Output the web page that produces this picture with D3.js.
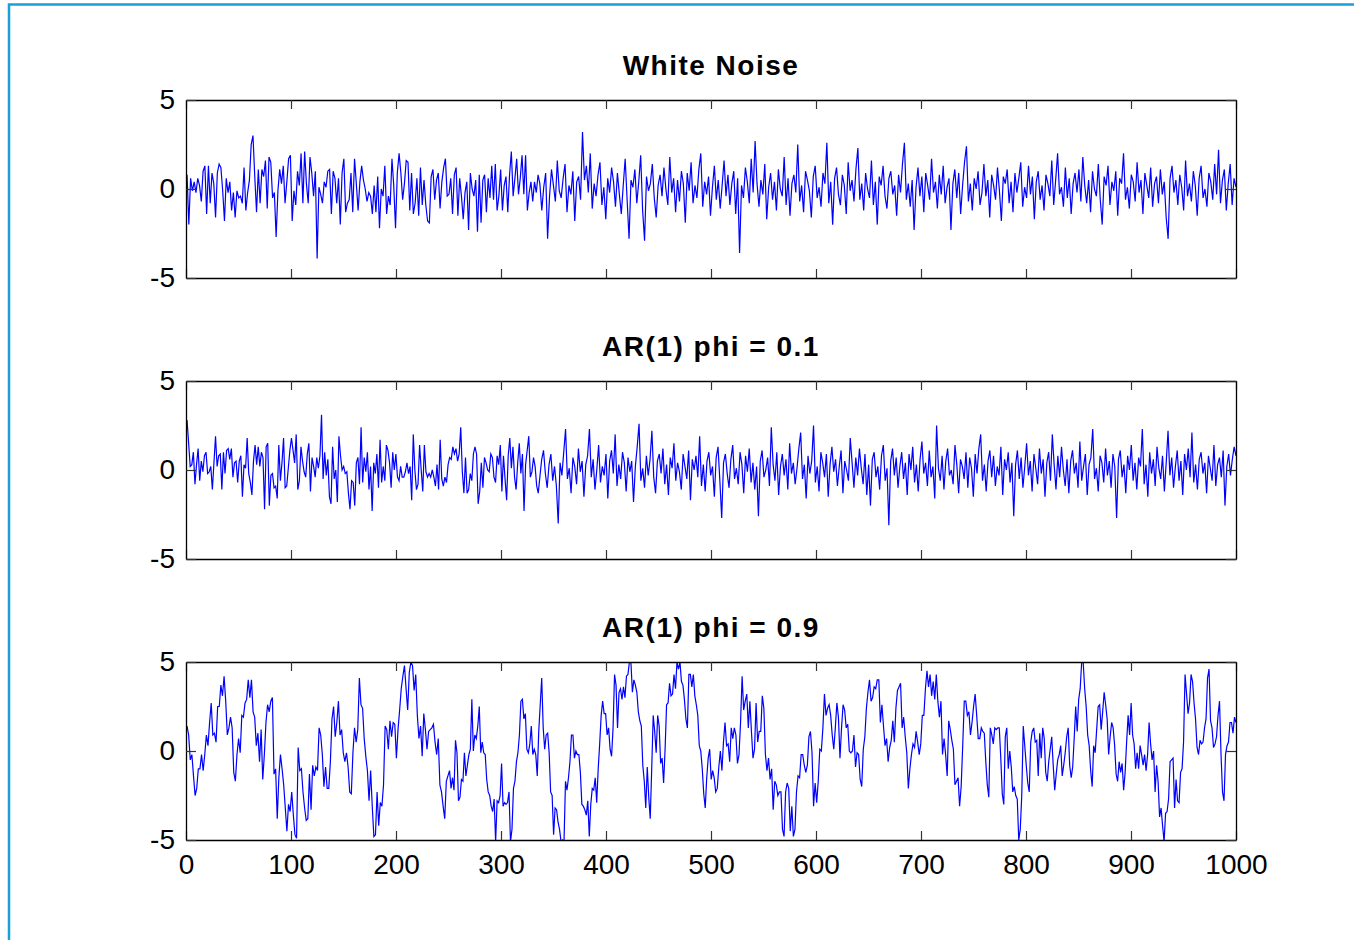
<!DOCTYPE html>
<html>
<head>
<meta charset="utf-8">
<script src="https://cdn.jsdelivr.net/npm/d3@7"></script>
<style>
  html, body { margin: 0; padding: 0; background: #fff; overflow: hidden; }
</style>
</head>
<body>
<div id="chart"></div>
<script>
// values, traced piece by piece (time of each piece in wnBreaks etc.)
const titles = ['White Noise', 'AR(1) phi = 0.1', 'AR(1) phi = 0.9'];
const xTicks = [0, 100, 200, 300, 400, 500, 600, 700, 800, 900, 1000];
const yTicks = [-5, 0, 5];

const wnBreaks = [1, 337, 1000];
const wnPart1 = [0.8,-2.0,0.6,-0.1,0.4,-0.2,0.6,0.2,-0.7,1.0,1.3,-1.4,1.3,-0.8,0.9,0.3,-1.6,0.9,1.4,1.2,-0.1,-1.8,0.6,-0.2,0.4,-1.2,-0.2,-1.6,-0.1,-0.5,-0.4,-0.8,1.2,-1.2,-0.2,0.5,2.5,3.0,0.7,-1.3,1.1,-0.8,1.1,0.7,1.6,-1.1,1.8,1.5,-0.5,-0.2,-2.7,-0.1,1.1,0.3,1.3,-0.8,0.4,1.7,1.9,-1.8,-0.1,-0.9,1.0,0.2,2.0,-0.8,2.1,0.3,-0.8,1.8,0.9,-0.4,1.0,-3.9,0.1,-0.3,-0.8,0.4,0.1,1.0,1.1,-1.4,1.0,0.6,-0.8,0.6,-2.0,0.9,1.7,-1.3,-0.8,-0.6,0.9,-1.3,1.7,0.3,-1.2,0.4,1.3,0.5,0.0,-0.7,-0.2,-0.4,-1.4,0.2,-1.3,0.7,-2.2,0.0,-0.4,1.3,-1.4,-0.4,-0.9,1.7,0.2,-2.2,0.9,2.0,0.9,-0.6,0.3,1.6,1.5,-1.2,0.9,-1.4,-0.8,0.6,-1.5,1.2,-0.9,0.5,-0.9,-1.8,-1.9,0.7,1.1,-0.6,0.5,0.9,-1.1,0.4,1.2,1.7,-0.4,-0.3,0.6,-1.4,0.8,1.2,-1.5,0.6,-0.4,-1.7,-0.2,0.4,-2.3,0.9,0.0,-0.4,0.5,-2.4,0.8,-1.9,0.5,0.8,-1.3,0.6,-0.5,1.3,-0.6,1.4,-1.2,-0.4,1.1,-1.2,0.2,0.7,-1.3,0.8,2.1,-0.4,0.6,1.7,-0.3,0.6,1.9,-0.3,1.9,-1.2,-0.2,0.4,-0.7,0.4,-0.2,0.8];
const wnPart2 = [0.3,-1.2,0.1,0.9,-2.8,-0.4,1.1,0.2,-0.7,1.6,-0.1,-0.5,0.6,1.4,-1.3,0.2,-0.3,1.0,-1.8,0.4,0.7,-0.6,3.2,0.5,1.3,-0.2,2.0,-1.1,0.3,-0.4,0.8,1.5,-0.9,0.1,-1.7,0.6,-0.2,1.2,0.4,-1.0,0.9,-0.3,-1.4,0.2,1.7,-0.6,-2.8,0.5,0.1,1.1,-0.8,0.4,1.9,-1.2,-2.9,0.7,-0.1,0.3,1.4,-0.5,-1.6,0.2,0.8,-0.4,1.2,0.0,-0.9,1.8,-0.2,0.6,-1.3,0.5,-0.7,1.0,0.3,-1.9,0.9,-0.1,1.5,-0.8,0.2,-0.5,1.1,2.0,-1.0,0.4,-0.3,0.7,-1.5,0.1,1.3,-0.6,0.5,-1.1,0.2,1.6,-0.4,0.8,-0.9,0.3,1.0,-1.4,0.6,-3.6,0.2,-0.5,1.2,0.4,-0.8,1.7,-0.2,2.7,0.3,-1.0,0.5,-0.3,1.4,-1.7,0.1,0.9,-0.6,0.4,-1.2,1.1,0.0,-0.4,1.8,-0.9,0.6,-1.5,0.3,0.8,-0.2,2.5,-0.7,0.2,-1.3,1.0,0.5,-0.1,-1.6,0.7,1.3,-0.5,0.1,-1.0,0.9,0.3,2.6,-0.8,0.4,-2.0,0.6,1.2,-0.3,-0.9,0.8,0.2,-1.4,1.5,-0.1,0.5,-0.7,1.1,2.3,-0.6,0.3,-1.2,0.9,0.0,-0.5,1.6,-0.9,0.4,-2.0,0.7,0.2,1.3,-0.4,-1.1,0.6,1.0,-0.3,0.2,-1.5,0.8,-0.2,1.4,2.6,-0.6,0.3,-1.0,0.5,-2.3,0.1,1.2,-0.4,0.7,-1.3,0.9,0.2,-0.6,1.7,-0.2,0.4,-1.1,0.8,-0.3,1.3,-0.8,0.1,0.6,-2.3,0.3,1.1,-0.5,0.9,-1.4,0.2,1.5,2.4,-0.7,0.3,-1.2,0.6,0.0,1.0,-0.9,-0.2,1.4,-0.4,0.5,-1.6,0.8,0.2,-0.6,1.2,-0.1,-1.8,0.7,0.3,1.1,-0.8,0.4,-1.3,0.9,-0.2,0.6,1.5,-1.0,0.1,-0.5,1.3,-0.3,0.7,-1.7,0.4,1.0,-0.6,0.2,-1.2,0.8,0.3,-0.4,1.6,-0.9,0.5,2.0,-0.3,0.1,-1.0,1.2,-0.5,0.6,-1.4,0.3,0.9,-0.2,1.1,-0.7,1.8,0.2,-0.8,0.5,-1.3,1.0,0.0,-0.4,1.4,-0.6,-2.0,0.7,0.2,1.3,-0.9,0.4,-0.1,1.0,-1.5,0.6,0.3,2.0,-0.6,0.1,-1.1,0.8,0.4,-0.7,1.5,-0.2,0.5,-1.4,0.9,0.2,-0.5,1.2,-1.0,0.3,0.7,-0.8,1.1,-0.3,0.4,-1.6,-2.8,0.6,1.3,-0.2,0.5,-0.9,0.8,0.1,-1.2,1.6,-0.4,0.3,-0.7,1.0,0.2,-1.5,0.6,1.3,-0.5,0.0,-1.0,0.9,0.4,-0.6,1.4,-0.3,2.2,-0.8,0.5,1.1,-1.2,0.3,1.4,-0.9,0.6,0.1];

const ar01Breaks = [1, 337, 1000];
const ar01Part1 = [2.8,1.5,0.2,0.3,1.0,-0.8,0.3,1.2,-0.6,0.5,-0.1,0.8,1.0,-0.2,-0.1,0.2,-1.1,0.4,1.9,0.2,0.8,0.9,-1.1,1.0,-0.2,1.1,1.2,0.6,1.2,-0.4,0.4,0.5,-0.7,0.5,0.8,-1.5,0.3,0.1,1.8,-0.2,-0.7,-1.4,0.5,1.4,0.3,1.3,0.2,1.0,0.7,-2.2,1.3,1.5,-2.0,-0.3,-0.2,-1.0,-0.9,-1.6,1.4,-0.6,0.4,1.8,-1.0,-0.9,0.1,1.1,1.8,1.1,0.4,2.0,-1.1,-0.6,1.3,0.5,-0.1,-0.4,0.9,1.5,-1.2,0.7,0.2,-0.4,0.7,0.1,0.8,3.1,-0.5,1.0,-0.3,0.6,-1.5,-1.9,1.3,-0.5,0.0,-1.8,1.9,0.8,0.0,0.2,-0.2,-0.1,-1.3,-2.2,-0.6,-0.7,-2.0,0.4,0.7,-0.8,2.4,-0.7,0.7,-0.1,1.0,-1.1,0.2,-2.3,0.4,-0.2,0.9,-1.0,1.7,-0.7,0.2,-0.6,1.4,1.1,0.4,-1.0,1.0,0.0,0.9,-0.4,-0.6,0.2,-0.4,-0.4,-0.1,0.4,-0.2,0.2,-1.7,2.0,0.0,-1.1,-0.8,1.4,0.0,-1.2,1.4,-0.1,-0.4,-0.2,-0.4,0.0,-0.4,-0.9,0.3,-1.1,1.7,-0.5,-0.9,-0.4,-0.7,0.3,0.7,0.6,1.3,0.9,1.2,0.5,0.9,2.4,-0.1,-1.3,0.7,-1.3,-1.1,-0.2,-0.6,0.9,1.3,0.9,-1.9,-1.2,0.4,-1.0,0.7,0.4,0.0,-0.1,0.9,0.7,-0.4,-0.7,0.8,0.3,1.4,-1.2,0.8,-0.5,-1.7,0.8,1.8,0.1,1.3,-0.4,-1.1,0.4,1.5,-0.2,0.9,-2.3,0.3,1.1,1.9,-0.4,-0.1,0.7,0.2,-0.9,-1.3];
const ar01Part2 = [-0.4,0.6,1.1,-0.2,-1.0,0.3,0.9,-0.6,0.2,-0.9,-3.0,0.4,-0.3,1.0,2.3,-0.5,0.1,-1.3,0.7,0.2,-0.8,1.2,-0.1,0.5,-1.5,0.3,0.8,2.3,-0.4,0.6,-1.1,0.0,1.4,-0.7,0.2,-0.3,0.9,-1.6,0.5,1.1,-0.2,2.0,-0.9,0.3,-0.5,1.0,0.4,-1.2,0.7,-0.1,0.5,-1.8,0.2,1.3,2.6,-0.6,0.1,-1.0,0.8,-0.3,0.6,2.2,-0.4,-1.3,0.5,0.9,-0.2,1.2,-0.8,0.3,-1.4,0.7,0.1,1.5,-0.6,0.4,-0.1,-1.1,0.9,0.2,-0.5,1.1,-1.7,0.6,0.0,0.8,-0.4,1.9,-0.9,0.3,-1.2,0.5,1.0,-0.3,0.2,-1.5,0.7,1.3,-0.6,-2.7,0.4,0.9,-0.2,-1.0,0.6,1.4,-0.5,0.1,-0.8,1.0,0.3,-1.3,0.8,-0.1,1.2,-0.7,0.4,-1.1,0.2,-2.6,0.5,1.1,-0.4,0.0,0.7,-0.9,2.4,0.3,-0.6,1.0,-1.4,0.2,0.9,-0.3,0.6,-1.1,1.5,-0.2,0.4,-0.8,0.1,1.2,2.1,-0.5,0.3,-1.6,0.8,-0.2,0.5,2.5,-0.7,0.2,-1.2,1.0,0.4,-0.4,0.9,-1.5,0.3,1.3,-0.1,0.6,-0.9,0.2,1.1,-1.3,0.5,0.0,-0.6,1.8,0.4,-1.0,0.7,-0.3,1.2,0.1,-0.8,0.9,-1.4,0.3,-2.0,0.6,1.0,-0.4,0.2,-1.1,0.8,1.4,-0.6,0.1,-3.1,0.5,1.2,-0.3,0.7,-1.0,0.2,1.0,-0.5,0.4,-1.4,0.9,0.0,1.3,-0.7,0.3,-1.2,0.6,1.6,-0.2,0.4,-0.9,1.1,-0.4,0.2,-1.6,2.5,0.1,-0.6,0.8,-1.1,0.5,1.2,-0.3,0.0,-0.8,1.4,0.3,-1.3,0.6,0.2,-0.5,1.0,-1.0,0.7,0.1,-1.5,0.9,-0.2,1.2,2.0,-0.6,0.3,-1.2,0.5,1.1,-0.4,0.8,-0.9,0.2,-0.3,1.3,-1.4,0.6,0.0,1.0,-0.7,0.4,-2.6,0.3,1.1,-0.5,0.7,-1.0,0.2,1.5,-0.3,0.5,-1.2,0.9,0.1,-0.8,1.2,-0.2,0.6,-1.5,0.4,1.0,-0.6,2.0,0.3,-1.1,0.8,-0.4,1.3,0.0,-0.9,0.6,-1.3,0.5,1.1,-0.2,0.4,-1.0,1.6,-0.6,0.2,0.9,-1.4,0.3,0.7,2.3,-0.5,0.1,-1.2,0.8,0.4,-0.7,1.2,-0.3,0.5,-1.0,0.9,0.2,-2.7,0.6,1.1,-0.4,0.3,-1.3,0.8,0.0,1.4,-0.6,0.4,-1.1,0.7,0.2,2.3,-0.8,0.3,-1.5,1.0,-0.2,0.6,-0.9,1.3,0.1,-0.5,0.8,-1.2,0.4,2.2,-0.3,0.7,-1.0,0.2,1.1,-0.6,0.5,-1.4,0.9,0.0,1.2,-0.4,2.1,-0.7,0.3,-1.1,0.6,1.0,-0.2,0.4,-1.3,0.8,0.1,-0.6,1.4,-0.9,0.3,0.7,-0.4,1.1,-2.0,0.2,0.9,-0.3,0.6,1.3,0.8];

const ar09Breaks = [1, 251, 503, 756, 1000];
const ar09Part1 = [1.4,0.9,-0.5,-0.2,-1.4,-2.5,-2.1,-1.0,-1.0,-0.2,-1.1,-0.2,0.9,0.3,1.6,2.7,0.9,1.0,0.5,2.5,2.5,3.7,3.1,4.2,2.8,0.9,1.3,1.9,1.3,-1.2,-1.7,-0.2,0.7,-0.1,2.0,1.9,2.7,2.9,4.0,3.0,4.0,2.2,1.9,0.3,1.0,-0.6,1.2,-1.6,-0.2,1.6,2.6,2.2,2.8,3.0,-1.3,-1.0,-3.8,-1.5,-0.2,-1.0,-1.9,-3.2,-4.5,-3.0,-3.4,-2.3,-3.6,-4.7,-4.9,0.2,-1.1,-1.0,-2.3,-3.2,-3.9,-3.8,-1.3,-3.3,-0.8,-1.4,-0.9,-1.1,1.3,0.9,-0.2,-2.0,-0.9,-2.1,-2.1,-0.6,1.8,2.5,0.8,1.6,2.8,0.9,1.2,-0.1,-0.6,-0.1,-0.9,-2.3,-2.4,-0.1,1.3,0.5,1.2,4.1,2.6,2.4,0.7,-0.3,-1.1,-2.8,-1.1,-3.1,-4.8,-4.7,-2.3,-4.2,-2.9,-3.1,-1.9,1.4,1.2,0.1,1.7,0.8,1.6,1.5,-0.4,1.2,2.3,3.5,4.2,4.8,3.5,2.3,4.4,5.0,4.8,3.4,4.3,2.0,0.7,1.4,-0.3,2.1,1.2,0.1,1.1,1.2,1.3,1.5,0.5,-0.2,0.7,-1.9,-2.3,-3.1,-3.8,-1.7,-1.4];
const ar09Part2 = [-1.1,-2.1,-1.5,-2.2,0.6,-0.1,-2.8,-2.6,-1.6,-1.7,-0.1,-1.4,-0.8,-0.2,0.1,2.9,0.0,0.9,0.7,1.4,2.5,-0.1,0.5,-0.1,-0.2,-1.6,-2.3,-2.5,-3.1,-3.4,-2.7,-5.1,-2.8,-2.9,-2.5,-0.7,-3.1,-2.9,-3.0,-2.9,-2.3,-5.1,-4.4,-2.1,-1.7,-0.6,-0.1,0.9,2.8,2.9,1.8,2.1,0.1,-0.1,0.4,1.4,-0.2,0.1,-0.2,-1.4,1.1,2.6,4.1,1.3,0.1,0.9,1.0,-0.1,-2.3,-2.5,-4.7,-3.2,-3.3,-4.0,-4.4,-5.1,-5.0,-5.1,-1.7,-2.2,-1.5,-0.6,0.9,0.9,-0.4,0.0,-0.2,-0.2,-1.2,-3.0,-3.1,-3.3,-3.6,-2.8,-4.8,-3.0,-2.1,-2.2,-1.5,-2.9,-1.0,0.4,2.0,2.8,2.1,2.1,0.9,1.3,0.1,-0.3,1.3,4.3,3.7,1.3,3.3,3.5,2.9,3.6,3.0,4.2,4.3,5.0,5.0,3.3,4.0,3.7,3.3,2.2,1.7,1.4,-0.8,-1.7,-3.2,-0.9,-2.6,-3.8,-1.0,2.0,1.1,-0.1,2.0,1.4,-0.7,-0.4,-1.8,0.1,2.6,2.7,3.8,3.1,3.2,4.3,3.5,5.0,4.6,5.0,3.9,3.7,2.9,1.8,1.3,4.3,4.3,3.6,4.3,3.1,2.6,2.0,0.3,0.0,-1.0,-2.4,-3.2,-1.5,-0.4,0.1,-1.6,-1.1];
const ar09Part3 = [-1.5,-2.3,-2.1,-0.9,0.0,-1.1,0.5,1.6,0.3,0.4,-0.6,1.3,0.7,1.3,0.9,-0.7,-0.2,1.6,4.2,2.3,2.8,3.2,1.3,2.8,1.1,-0.4,0.1,2.7,0.5,1.1,1.1,3.1,2.4,-0.2,-1.1,-0.4,-1.6,-1.0,-3.3,-1.7,-1.9,-2.5,-2.3,-2.3,-4.4,-4.8,-2.3,-1.8,-2.1,-4.5,-3.1,-4.8,-4.4,-2.3,-1.4,-1.5,-0.2,-0.2,-0.8,-1.2,-0.8,0.8,1.1,-0.1,-3.1,-1.8,-2.9,-1.7,0.1,0.0,1.3,3.2,2.0,2.4,2.6,2.0,0.9,0.1,1.3,2.7,1.9,-0.4,1.3,2.6,2.3,1.3,1.5,0.0,-0.1,0.0,0.9,-0.9,-0.1,-0.2,-1.6,-2.0,0.1,0.8,2.4,3.3,4.0,2.8,3.0,3.6,3.5,4.0,4.0,1.6,2.6,1.4,0.3,0.7,-0.6,0.2,0.6,1.7,0.5,2.4,3.4,3.6,3.8,1.3,1.9,0.8,-0.1,-2.1,-1.0,-0.2,0.4,0.2,1.1,0.5,-0.2,0.4,2.0,2.0,3.5,4.5,3.6,4.3,3.1,3.9,2.9,4.3,2.8,1.9,2.8,-0.2,0.7,-0.2,-1.4,1.7,1.2,0.6,0.1,-1.9,-1.7,-1.5,-3.1,-2.0,0.3,2.8,2.8,2.0,2.2,0.9,1.6,2.5,3.2,2.0,0.7];
const ar09Part4 = [0.7,1.3,1.1,1.0,-0.6,-1.9,-2.6,1.3,0.9,0.4,1.3,1.2,1.3,1.3,-0.4,-2.4,-3.0,0.8,1.3,-1.0,0.0,-0.9,-2.3,-2.0,-2.5,-2.7,-5.0,-4.4,-2.5,1.4,0.3,-0.8,-1.8,-2.3,0.5,1.1,1.3,0.5,0.6,-1.4,1.0,-0.4,1.3,0.7,-1.2,-1.7,-0.6,0.1,0.8,-0.8,-2.2,-1.3,-0.5,-0.2,0.3,-1.4,-0.8,-0.1,0.8,1.3,-0.8,-1.5,-0.9,0.7,2.5,1.1,2.9,3.5,5.0,5.0,3.5,2.5,0.9,0.3,-1.1,-2.0,0.3,-0.1,1.2,2.5,2.6,1.2,2.2,3.3,2.6,1.8,-0.2,0.8,1.6,1.3,0.3,-1.3,-1.7,-0.6,-1.2,-0.7,-2.2,-1.2,0.5,2.0,0.9,2.7,0.9,0.4,-1.0,-0.1,-1.0,0.3,-0.2,-0.8,-0.2,-1.1,-0.2,1.6,0.4,-0.5,0.0,-2.3,-0.8,-1.7,-3.7,-3.2,-4.2,-5.1,-3.5,-3.4,-2.7,-0.6,-0.5,-0.4,-3.2,-1.6,-2.8,-2.9,-1.2,-1.0,0.5,4.3,3.2,2.1,2.7,4.3,3.9,2.7,1.8,0.2,-0.2,0.6,0.4,0.5,1.3,1.8,4.1,4.6,1.7,1.3,0.2,0.4,0.8,2.0,2.8,-0.2,-2.3,-2.8,-0.2,0.3,0.5,1.6,1.6,1.0,1.9,1.6];

// put the traced pieces back on one time axis
function assemble(parts, breaks) {
  const pts = [];
  parts.forEach((part, k) => {
    const last = k === parts.length - 1;
    const step = (breaks[k + 1] - breaks[k]) / (last ? part.length - 1 : part.length);
    part.forEach((v, j) => pts.push({ t: breaks[k] + j * step, v: v }));
  });
  return pts;
}

const panels = [
  { title: titles[0], data: assemble([wnPart1, wnPart2], wnBreaks) },
  { title: titles[1], data: assemble([ar01Part1, ar01Part2], ar01Breaks) },
  { title: titles[2], data: assemble([ar09Part1, ar09Part2, ar09Part3, ar09Part4], ar09Breaks) }
];

const width = 1354, height = 940;
const left = 186, right = 1236, panelH = 178;
const tops = [100, 381, 662];
const font = "'Liberation Sans', Arial, Helvetica, sans-serif";

const svg = d3.select('#chart').append('svg')
  .attr('width', width)
  .attr('height', height)
  .style('background-color', '#fff')
  .style('display', 'block');

// blue window frame on the left and top
svg.append('path')
  .attr('d', `M9,${height}V4.5H${width}`)
  .attr('fill', 'none')
  .attr('stroke', '#1a9fd6')
  .attr('stroke-width', 2.5);

const xScale = d3.scaleLinear().domain([0, 1000]).range([left, right]);
const plain = (d) => String(d); // matlab prints "-5" with a hyphen

panels.forEach((p, i) => {
  const top = tops[i];
  const yScale = d3.scaleLinear().domain([-5, 5]).range([top + panelH, top]);
  const g = svg.append('g');

  g.append('clipPath').attr('id', 'clip' + i)
    .append('rect')
    .attr('x', left).attr('y', top)
    .attr('width', right - left).attr('height', panelH);

  const line = d3.line()
    .x((d) => xScale(d.t))
    .y((d) => yScale(d.v));

  g.append('path')
    .datum(p.data)
    .attr('clip-path', `url(#clip${i})`)
    .attr('fill', 'none')
    .attr('stroke', '#0000ff')
    .attr('stroke-width', 1.2)
    .attr('d', line);

  // box + inward ticks on all four sides
  const bottomAxis = d3.axisBottom(xScale).tickValues(xTicks)
    .tickSizeInner(-9).tickSizeOuter(0).tickPadding(14)
    .tickFormat(i === 2 ? plain : () => '');
  const topAxis = d3.axisTop(xScale).tickValues(xTicks)
    .tickSizeInner(-9).tickSizeOuter(0).tickFormat(() => '');
  const leftAxis = d3.axisLeft(yScale).tickValues(yTicks)
    .tickSizeInner(-10).tickSizeOuter(0).tickPadding(11)
    .tickFormat(plain);
  const rightAxis = d3.axisRight(yScale).tickValues(yTicks)
    .tickSizeInner(-10).tickSizeOuter(0).tickFormat(() => '');

  g.append('g').attr('transform', `translate(0,${top + panelH})`).call(bottomAxis);
  g.append('g').attr('transform', `translate(0,${top})`).call(topAxis);
  g.append('g').attr('transform', `translate(${left},0)`).call(leftAxis);
  g.append('g').attr('transform', `translate(${right},0)`).call(rightAxis);

  g.selectAll('.domain').attr('stroke', '#000').attr('stroke-width', 1.3);
  g.selectAll('.tick line').attr('stroke', '#333').attr('stroke-width', 1.2);
  g.selectAll('.tick text')
    .attr('fill', '#000')
    .style('font-family', font)
    .style('font-size', '28px');

  g.append('text')
    .attr('x', (left + right) / 2)
    .attr('y', top - 25)
    .attr('text-anchor', 'middle')
    .style('font-family', font)
    .style('font-size', '28px')
    .style('font-weight', 'bold')
    .style('letter-spacing', '1.5px')
    .text(p.title);
});
</script>
</body>
</html>
